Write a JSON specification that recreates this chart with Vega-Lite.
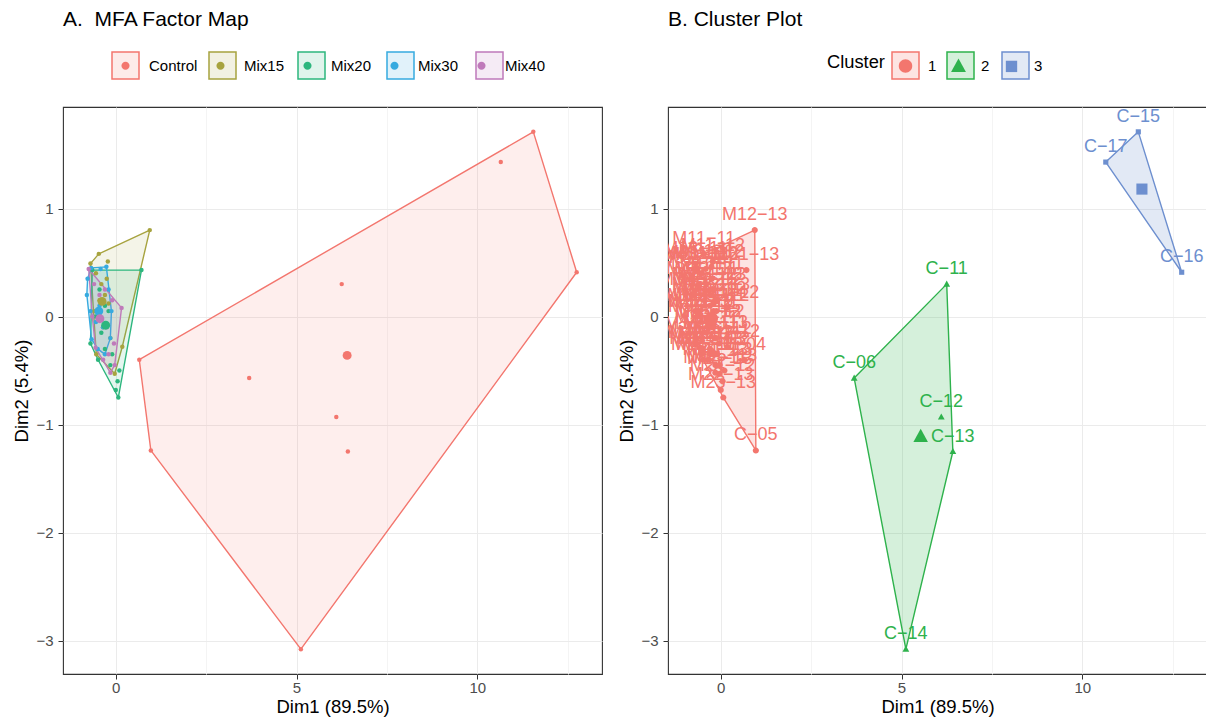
{
"$schema": "https://vega.github.io/schema/vega-lite/v6.json",
"background": "white",
"padding": {"left": 12, "top": 8, "right": 0, "bottom": 3},
"bounds": "flush",
"spacing": 66,
"resolve": {
 "scale": {"color": "independent", "fill": "independent", "stroke": "independent", "shape": "independent"},
 "legend": {"color": "independent", "fill": "independent", "stroke": "independent", "shape": "independent"}
},
"config": {
 "font": "Liberation Sans",
 "view": {"stroke": "#333333", "strokeWidth": 1.1},
 "axis": {"domain": false, "grid": true, "gridColor": "#EBEBEB", "tickColor": "#333333", "tickSize": 5, "tickWidth": 1, "labelColor": "#4D4D4D", "labelFontSize": 15, "titleFontSize": 18.5, "titleFontWeight": "normal", "titleColor": "black"},
 "axisX": {"titlePadding": 2, "labelPadding": 1},
 "axisY": {"titlePadding": 4, "labelPadding": 5},
 "legend": {"labelFontSize": 15, "labelColor": "black", "titleFontSize": 18.3, "titleFontWeight": "normal", "titleColor": "black", "symbolSize": 729, "symbolStrokeWidth": 1.5, "padding": 0},
 "title": {"fontSize": 21, "fontWeight": "normal", "anchor": "start", "frame": "group", "color": "black", "offset": 21}
},
"datasets": {
 "pts": [
  {"n": "C−04", "g": "Control", "c": "1", "x": 0.65, "y": -0.40},
  {"n": "C−05", "g": "Control", "c": "1", "x": 0.97, "y": -1.24},
  {"n": "C−06", "g": "Control", "c": "2", "x": 3.69, "y": -0.57},
  {"n": "C−11", "g": "Control", "c": "2", "x": 6.25, "y": 0.30},
  {"n": "C−12", "g": "Control", "c": "2", "x": 6.10, "y": -0.93},
  {"n": "C−13", "g": "Control", "c": "2", "x": 6.42, "y": -1.25},
  {"n": "C−14", "g": "Control", "c": "2", "x": 5.12, "y": -3.08},
  {"n": "C−15", "g": "Control", "c": "3", "x": 11.55, "y": 1.71},
  {"n": "C−16", "g": "Control", "c": "3", "x": 12.75, "y": 0.41},
  {"n": "C−17", "g": "Control", "c": "3", "x": 10.65, "y": 1.43},
  {"n": "M11−11", "g": "Mix15", "c": "1", "x": -0.47, "y": 0.58},
  {"n": "M11−12", "g": "Mix15", "c": "1", "x": -0.22, "y": 0.51},
  {"n": "M11−13", "g": "Mix15", "c": "1", "x": -0.55, "y": 0.40},
  {"n": "M12−11", "g": "Mix15", "c": "1", "x": -0.40, "y": 0.30},
  {"n": "M12−12", "g": "Mix15", "c": "1", "x": -0.30, "y": 0.20},
  {"n": "M12−13", "g": "Mix15", "c": "1", "x": 0.94, "y": 0.80},
  {"n": "M13−11", "g": "Mix15", "c": "1", "x": -0.70, "y": 0.49},
  {"n": "M13−12", "g": "Mix15", "c": "1", "x": -0.20, "y": 0.12},
  {"n": "M13−13", "g": "Mix15", "c": "1", "x": -0.45, "y": 0.15},
  {"n": "M14−11", "g": "Mix15", "c": "1", "x": -0.60, "y": 0.05},
  {"n": "M14−12", "g": "Mix15", "c": "1", "x": 0.18, "y": -0.28},
  {"n": "M14−13", "g": "Mix15", "c": "1", "x": -0.03, "y": -0.53},
  {"n": "M15−11", "g": "Mix15", "c": "1", "x": -0.54, "y": -0.35},
  {"n": "M15−12", "g": "Mix15", "c": "1", "x": -0.35, "y": -0.10},
  {"n": "M15−13", "g": "Mix15", "c": "1", "x": -0.15, "y": -0.20},
  {"n": "M16−11", "g": "Mix15", "c": "1", "x": -0.25, "y": 0.35},
  {"n": "M21−11", "g": "Mix20", "c": "1", "x": -0.65, "y": 0.43},
  {"n": "M21−12", "g": "Mix20", "c": "1", "x": -0.45, "y": 0.25},
  {"n": "M21−13", "g": "Mix20", "c": "1", "x": 0.71, "y": 0.43},
  {"n": "M22−11", "g": "Mix20", "c": "1", "x": -0.30, "y": 0.10},
  {"n": "M22−12", "g": "Mix20", "c": "1", "x": -0.55, "y": 0.00},
  {"n": "M22−13", "g": "Mix20", "c": "1", "x": 0.00, "y": -0.68},
  {"n": "M23−11", "g": "Mix20", "c": "1", "x": -0.20, "y": 0.05},
  {"n": "M23−12", "g": "Mix20", "c": "1", "x": -0.70, "y": -0.25},
  {"n": "M23−13", "g": "Mix20", "c": "1", "x": 0.07, "y": -0.75},
  {"n": "M24−11", "g": "Mix20", "c": "1", "x": -0.49, "y": -0.40},
  {"n": "M24−12", "g": "Mix20", "c": "1", "x": 0.05, "y": -0.60},
  {"n": "M24−13", "g": "Mix20", "c": "1", "x": -0.15, "y": -0.45},
  {"n": "M25−11", "g": "Mix20", "c": "1", "x": -0.30, "y": -0.30},
  {"n": "M25−12", "g": "Mix20", "c": "1", "x": -0.10, "y": -0.35},
  {"n": "M25−13", "g": "Mix20", "c": "1", "x": 0.10, "y": -0.50},
  {"n": "M26−11", "g": "Mix20", "c": "1", "x": -0.40, "y": -0.15},
  {"n": "M31−11", "g": "Mix30", "c": "1", "x": -0.68, "y": 0.45},
  {"n": "M31−12", "g": "Mix30", "c": "1", "x": -0.26, "y": 0.46},
  {"n": "M31−13", "g": "Mix30", "c": "1", "x": -0.42, "y": 0.44},
  {"n": "M32−11", "g": "Mix30", "c": "1", "x": -0.78, "y": 0.35},
  {"n": "M32−12", "g": "Mix30", "c": "1", "x": -0.80, "y": 0.20},
  {"n": "M32−13", "g": "Mix30", "c": "1", "x": -0.70, "y": 0.05},
  {"n": "M33−11", "g": "Mix30", "c": "1", "x": -0.67, "y": -0.21},
  {"n": "M33−12", "g": "Mix30", "c": "1", "x": -0.50, "y": -0.30},
  {"n": "M33−13", "g": "Mix30", "c": "1", "x": -0.30, "y": -0.35},
  {"n": "M34−11", "g": "Mix30", "c": "1", "x": -0.15, "y": -0.20},
  {"n": "M34−12", "g": "Mix30", "c": "1", "x": -0.12, "y": 0.05},
  {"n": "M34−13", "g": "Mix30", "c": "1", "x": -0.20, "y": 0.25},
  {"n": "M35−11", "g": "Mix30", "c": "1", "x": -0.45, "y": 0.10},
  {"n": "M35−12", "g": "Mix30", "c": "1", "x": -0.55, "y": -0.05},
  {"n": "M35−13", "g": "Mix30", "c": "1", "x": -0.35, "y": -0.10},
  {"n": "M41−11", "g": "Mix40", "c": "1", "x": -0.75, "y": 0.44},
  {"n": "M41−12", "g": "Mix40", "c": "1", "x": 0.16, "y": 0.08},
  {"n": "M41−13", "g": "Mix40", "c": "1", "x": -0.03, "y": -0.45},
  {"n": "M42−11", "g": "Mix40", "c": "1", "x": -0.15, "y": -0.52},
  {"n": "M42−12", "g": "Mix40", "c": "1", "x": -0.56, "y": -0.29},
  {"n": "M42−13", "g": "Mix40", "c": "1", "x": -0.60, "y": 0.30},
  {"n": "M43−11", "g": "Mix40", "c": "1", "x": -0.45, "y": 0.20},
  {"n": "M43−12", "g": "Mix40", "c": "1", "x": -0.30, "y": 0.25},
  {"n": "M43−13", "g": "Mix40", "c": "1", "x": -0.10, "y": 0.15},
  {"n": "M44−11", "g": "Mix40", "c": "1", "x": -0.40, "y": -0.02},
  {"n": "M44−12", "g": "Mix40", "c": "1", "x": -0.25, "y": -0.10},
  {"n": "M44−13", "g": "Mix40", "c": "1", "x": -0.20, "y": -0.35},
  {"n": "M45−11", "g": "Mix40", "c": "1", "x": -0.35, "y": -0.40},
  {"n": "M45−12", "g": "Mix40", "c": "1", "x": -0.05, "y": -0.25},
  {"n": "M45−13", "g": "Mix40", "c": "1", "x": -0.65, "y": 0.00}
 ],
 "hullA": [
  {"grp": "Control", "ord": 1, "x": 11.55, "y": 1.71},
  {"grp": "Control", "ord": 2, "x": 12.75, "y": 0.41},
  {"grp": "Control", "ord": 3, "x": 5.12, "y": -3.08},
  {"grp": "Control", "ord": 4, "x": 0.97, "y": -1.24},
  {"grp": "Control", "ord": 5, "x": 0.65, "y": -0.40},
  {"grp": "Control", "ord": 6, "x": 11.55, "y": 1.71},
  {"grp": "Mix15", "ord": 1, "x": 0.94, "y": 0.80},
  {"grp": "Mix15", "ord": 2, "x": 0.18, "y": -0.28},
  {"grp": "Mix15", "ord": 3, "x": -0.03, "y": -0.53},
  {"grp": "Mix15", "ord": 4, "x": -0.54, "y": -0.35},
  {"grp": "Mix15", "ord": 5, "x": -0.70, "y": 0.49},
  {"grp": "Mix15", "ord": 6, "x": -0.47, "y": 0.58},
  {"grp": "Mix15", "ord": 7, "x": 0.94, "y": 0.80},
  {"grp": "Mix20", "ord": 1, "x": 0.71, "y": 0.43},
  {"grp": "Mix20", "ord": 2, "x": 0.07, "y": -0.75},
  {"grp": "Mix20", "ord": 3, "x": -0.49, "y": -0.40},
  {"grp": "Mix20", "ord": 4, "x": -0.70, "y": -0.25},
  {"grp": "Mix20", "ord": 5, "x": -0.65, "y": 0.43},
  {"grp": "Mix20", "ord": 6, "x": 0.71, "y": 0.43},
  {"grp": "Mix30", "ord": 1, "x": -0.26, "y": 0.46},
  {"grp": "Mix30", "ord": 2, "x": -0.12, "y": 0.05},
  {"grp": "Mix30", "ord": 3, "x": -0.15, "y": -0.20},
  {"grp": "Mix30", "ord": 4, "x": -0.30, "y": -0.35},
  {"grp": "Mix30", "ord": 5, "x": -0.50, "y": -0.30},
  {"grp": "Mix30", "ord": 6, "x": -0.67, "y": -0.21},
  {"grp": "Mix30", "ord": 7, "x": -0.80, "y": 0.20},
  {"grp": "Mix30", "ord": 8, "x": -0.78, "y": 0.35},
  {"grp": "Mix30", "ord": 9, "x": -0.68, "y": 0.45},
  {"grp": "Mix30", "ord": 10, "x": -0.26, "y": 0.46},
  {"grp": "Mix40", "ord": 1, "x": -0.75, "y": 0.44},
  {"grp": "Mix40", "ord": 2, "x": 0.16, "y": 0.08},
  {"grp": "Mix40", "ord": 3, "x": -0.03, "y": -0.45},
  {"grp": "Mix40", "ord": 4, "x": -0.15, "y": -0.52},
  {"grp": "Mix40", "ord": 5, "x": -0.56, "y": -0.29},
  {"grp": "Mix40", "ord": 6, "x": -0.65, "y": 0.00},
  {"grp": "Mix40", "ord": 7, "x": -0.75, "y": 0.44}
 ],
 "hullB": [
  {"clu": "1", "ord": 1, "x": 0.94, "y": 0.80},
  {"clu": "1", "ord": 2, "x": 0.97, "y": -1.24},
  {"clu": "1", "ord": 3, "x": 0.07, "y": -0.75},
  {"clu": "1", "ord": 4, "x": -0.49, "y": -0.40},
  {"clu": "1", "ord": 5, "x": -0.70, "y": -0.25},
  {"clu": "1", "ord": 6, "x": -0.80, "y": 0.20},
  {"clu": "1", "ord": 7, "x": -0.78, "y": 0.35},
  {"clu": "1", "ord": 8, "x": -0.75, "y": 0.44},
  {"clu": "1", "ord": 9, "x": -0.70, "y": 0.49},
  {"clu": "1", "ord": 10, "x": -0.47, "y": 0.58},
  {"clu": "1", "ord": 11, "x": 0.94, "y": 0.80},
  {"clu": "2", "ord": 1, "x": 3.69, "y": -0.57},
  {"clu": "2", "ord": 2, "x": 6.25, "y": 0.30},
  {"clu": "2", "ord": 3, "x": 6.42, "y": -1.25},
  {"clu": "2", "ord": 4, "x": 5.12, "y": -3.08},
  {"clu": "2", "ord": 5, "x": 3.69, "y": -0.57},
  {"clu": "3", "ord": 1, "x": 11.55, "y": 1.71},
  {"clu": "3", "ord": 2, "x": 12.75, "y": 0.41},
  {"clu": "3", "ord": 3, "x": 10.65, "y": 1.43},
  {"clu": "3", "ord": 4, "x": 11.55, "y": 1.71}
 ],
 "cenA": [
  {"g": "Control", "x": 6.40, "y": -0.36},
  {"g": "Mix15", "x": -0.38, "y": 0.14},
  {"g": "Mix20", "x": -0.28, "y": -0.08},
  {"g": "Mix30", "x": -0.47, "y": 0.05},
  {"g": "Mix40", "x": -0.44, "y": -0.02}
 ],
 "cenB": [
  {"c": "1", "x": -0.26, "y": -0.02},
  {"c": "2", "x": 5.53, "y": -1.11},
  {"c": "3", "x": 11.65, "y": 1.18}
 ]
},
"hconcat": [
 {
  "width": 539, "height": 567,
  "title": {"text": "A.\u00a0 MFA Factor Map"},
  "encoding": {
   "x": {"field": "x", "type": "quantitative", "scale": {"domain": [-1.46, 13.45], "nice": false, "zero": false},
         "axis": {"title": "Dim1 (89.5%)", "values": [0, 2.5, 5, 7.5, 10, 12.5], "format": "d",
                  "labelExpr": "datum.value % 5 === 0 ? datum.label : ''",
                  "tickColor": {"condition": {"test": "datum.value % 5 !== 0", "value": "transparent"}, "value": "#333333"},
                  "gridColor": {"condition": {"test": "datum.value % 5 !== 0", "value": "#F4F4F4"}, "value": "#EBEBEB"}}},
   "y": {"field": "y", "type": "quantitative", "scale": {"domain": [-3.31, 1.94], "nice": false, "zero": false},
         "axis": {"title": "Dim2 (5.4%)", "values": [-3, -2.5, -2, -1.5, -1, -0.5, 0, 0.5, 1, 1.5], "format": "d",
                  "labelExpr": "datum.value % 1 === 0 ? datum.label : ''",
                  "tickColor": {"condition": {"test": "datum.value % 1 !== 0", "value": "transparent"}, "value": "#333333"},
                  "gridColor": {"condition": {"test": "datum.value % 1 !== 0", "value": "#F4F4F4"}, "value": "#EBEBEB"}}}
  },
  "layer": [
   {
    "data": {"name": "hullA"},
    "mark": {"type": "line", "strokeWidth": 1.4, "fillOpacity": 0.12, "strokeJoin": "round"},
    "encoding": {
     "order": {"field": "ord", "type": "quantitative"},
     "detail": {"field": "grp"},
     "stroke": {"field": "grp", "type": "nominal", "scale": {"range": ["#F3766E", "#A7A33F", "#2DB67E", "#36AADF", "#BF7ABA"]},
       "legend": {"orient": "none", "legendX": 48, "legendY": -56, "direction": "horizontal", "columns": 5, "title": null, "symbolType": "square", "symbolStrokeWidth": 1.5, "labelOpacity": 0, "labelOffset": 9, "columnPadding": 8,
                  "encode": {"symbols": {"update": {"fillOpacity": {"value": 0.15}, "opacity": {"value": 1}}}}}},
     "fill": {"field": "grp", "type": "nominal", "scale": {"range": ["#F3766E", "#A7A33F", "#2DB67E", "#36AADF", "#BF7ABA"]},
       "legend": {"orient": "none", "legendX": 48, "legendY": -56, "direction": "horizontal", "columns": 5, "title": null, "symbolType": "square", "symbolStrokeWidth": 1.5, "labelOpacity": 0, "labelOffset": 9, "columnPadding": 8,
                  "encode": {"symbols": {"update": {"fillOpacity": {"value": 0.15}, "opacity": {"value": 1}}}}}}
    }
   },
   {
    "data": {"name": "pts"},
    "mark": {"type": "circle", "size": 20, "opacity": 1},
    "encoding": {
     "color": {"field": "g", "type": "nominal", "scale": {"domain": ["Control", "Mix15", "Mix20", "Mix30", "Mix40"], "range": ["#F3766E", "#A7A33F", "#2DB67E", "#36AADF", "#BF7ABA"]},
       "legend": {"orient": "none", "legendX": 48, "legendY": -56, "direction": "horizontal", "columns": 5, "title": null, "labelOffset": 9, "columnPadding": 8,
                  "symbolType": "M-0.3,0A0.3,0.3 0 1,0 0.3,0A0.3,0.3 0 1,0 -0.3,0Z", "symbolStrokeWidth": 1.5, "symbolStrokeColor": "transparent", "symbolOpacity": 1,
                  "encode": {"symbols": {"update": {"stroke": {"value": "transparent"}}}}}}
    }
   },
   {
    "data": {"name": "cenA"},
    "mark": {"type": "circle", "size": 80, "opacity": 1},
    "encoding": {
     "color": {"field": "g", "type": "nominal"}
    }
   },
   {
    "data": {"values": [{}]},
    "mark": {"type": "rule", "strokeDash": [6, 4], "strokeWidth": 1.3, "color": "black"},
    "encoding": {"x": {"datum": 0}}
   },
   {
    "data": {"values": [{}]},
    "mark": {"type": "rule", "strokeDash": [6, 4], "strokeWidth": 1.3, "color": "black"},
    "encoding": {"y": {"datum": 0}}
   }
  ]
 },
 {
  "width": 539, "height": 567,
  "title": {"text": "B. Cluster Plot"},
  "encoding": {
   "x": {"field": "x", "type": "quantitative", "scale": {"domain": [-1.46, 13.45], "nice": false, "zero": false},
         "axis": {"title": "Dim1 (89.5%)", "values": [0, 2.5, 5, 7.5, 10, 12.5], "format": "d",
                  "labelExpr": "datum.value % 5 === 0 ? datum.label : ''",
                  "tickColor": {"condition": {"test": "datum.value % 5 !== 0", "value": "transparent"}, "value": "#333333"},
                  "gridColor": {"condition": {"test": "datum.value % 5 !== 0", "value": "#F4F4F4"}, "value": "#EBEBEB"}}},
   "y": {"field": "y", "type": "quantitative", "scale": {"domain": [-3.31, 1.94], "nice": false, "zero": false},
         "axis": {"title": "Dim2 (5.4%)", "values": [-3, -2.5, -2, -1.5, -1, -0.5, 0, 0.5, 1, 1.5], "format": "d",
                  "labelExpr": "datum.value % 1 === 0 ? datum.label : ''",
                  "tickColor": {"condition": {"test": "datum.value % 1 !== 0", "value": "transparent"}, "value": "#333333"},
                  "gridColor": {"condition": {"test": "datum.value % 1 !== 0", "value": "#F4F4F4"}, "value": "#EBEBEB"}}}
  },
  "layer": [
   {
    "data": {"name": "hullB"},
    "mark": {"type": "line", "strokeWidth": 1.4, "fillOpacity": 0.2, "strokeJoin": "round"},
    "encoding": {
     "order": {"field": "ord", "type": "quantitative"},
     "detail": {"field": "clu"},
     "stroke": {"field": "clu", "type": "nominal", "scale": {"range": ["#F3766E", "#2EB24C", "#6D8FCF"]},
       "legend": {"orient": "none", "legendX": 159, "legendY": -56, "direction": "horizontal", "columns": 3, "title": "Cluster", "titleOrient": "left", "titlePadding": 6, "titleColor": "transparent", "symbolType": "square", "symbolStrokeWidth": 1.5, "labelOpacity": 0, "labelOffset": 8, "columnPadding": 7,
                  "encode": {"symbols": {"update": {"fillOpacity": {"value": 0.2}, "opacity": {"value": 1}}}}}},
     "fill": {"field": "clu", "type": "nominal", "scale": {"range": ["#F3766E", "#2EB24C", "#6D8FCF"]},
       "legend": {"orient": "none", "legendX": 159, "legendY": -56, "direction": "horizontal", "columns": 3, "title": "Cluster", "titleOrient": "left", "titlePadding": 6, "titleColor": "transparent", "symbolType": "square", "symbolStrokeWidth": 1.5, "labelOpacity": 0, "labelOffset": 8, "columnPadding": 7,
                  "encode": {"symbols": {"update": {"fillOpacity": {"value": 0.2}, "opacity": {"value": 1}}}}}}
    }
   },
   {
    "data": {"name": "pts"},
    "mark": {"type": "point", "filled": true, "size": 150, "opacity": 1},
    "encoding": {
     "color": {"field": "c", "type": "nominal", "scale": {"domain": ["1", "2", "3"], "range": ["#F3766E", "#2EB24C", "#6D8FCF"]},
       "legend": {"orient": "none", "legendX": 159, "legendY": -56, "direction": "horizontal", "columns": 3, "title": "Cluster", "titleOrient": "left", "titlePadding": 6, "labelOffset": 8, "columnPadding": 7, "symbolStrokeWidth": 1.5, "symbolStrokeColor": "transparent", "symbolOpacity": 1,
                  "encode": {"symbols": {"update": {"stroke": {"value": "transparent"}}}}}},
     "shape": {"field": "c", "type": "nominal", "scale": {"domain": ["1", "2", "3"], "range": ["M-0.5,0A0.5,0.5 0 1,0 0.5,0A0.5,0.5 0 1,0 -0.5,0Z", "M0,-0.58L0.55,0.42L-0.55,0.42Z", "M-0.42,-0.42H0.42V0.42H-0.42Z"]},
       "legend": {"orient": "none", "legendX": 159, "legendY": -56, "direction": "horizontal", "columns": 3, "title": "Cluster", "titleOrient": "left", "titlePadding": 6, "labelOffset": 8, "columnPadding": 7, "symbolStrokeWidth": 1.5, "symbolStrokeColor": "transparent", "symbolOpacity": 1,
                  "encode": {"symbols": {"update": {"stroke": {"value": "transparent"}}}}}}
    }
   },
   {
    "data": {"name": "cenB"},
    "mark": {"type": "point", "filled": true, "size": 700, "opacity": 1},
    "encoding": {
     "color": {"field": "c", "type": "nominal"},
     "shape": {"field": "c", "type": "nominal"}
    }
   },
   {
    "data": {"name": "pts"},
    "mark": {"type": "text", "fontSize": 18, "dy": -15, "clip": true},
    "encoding": {
     "text": {"field": "n"},
     "color": {"field": "c", "type": "nominal", "legend": null}
    }
   }
  ]
 }
]
}
